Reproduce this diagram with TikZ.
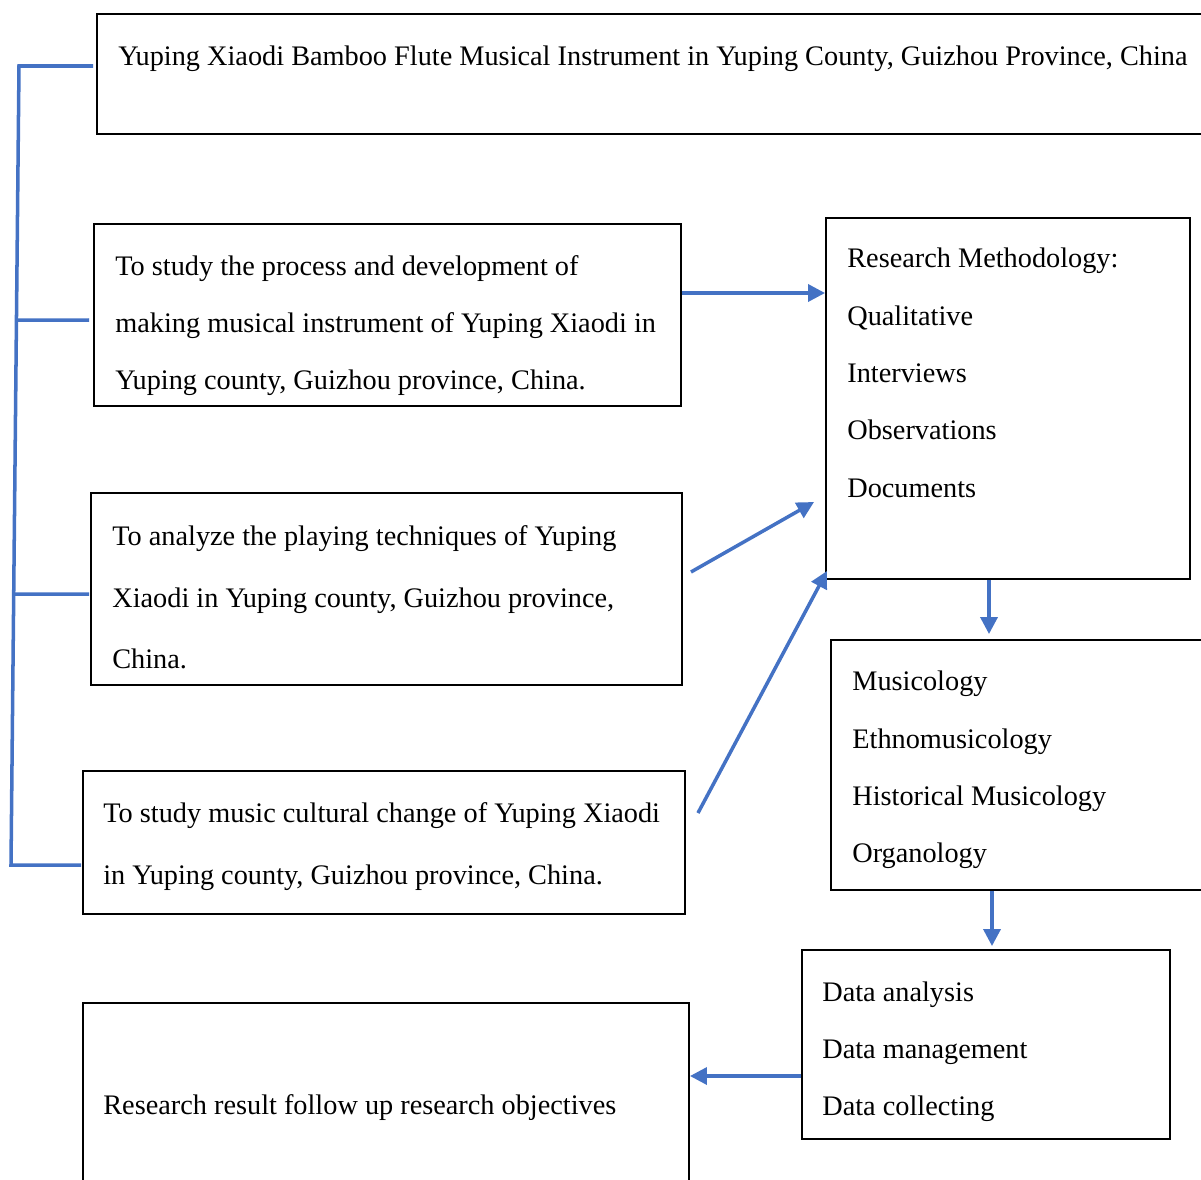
\documentclass[tikz,border=0pt]{standalone}
\usepackage{fontspec}
\setmainfont{Liberation Serif}
\usetikzlibrary{arrows.meta,calc}
\definecolor{linkblue}{HTML}{4472C4}
\begin{document}
\begin{tikzpicture}[
    box/.style={draw,line width=1.1pt,inner sep=0pt},
    txt/.style={anchor=north west,inner sep=0pt,align=left,font=\fontsize{16.1}{32.6}\selectfont},
    widetxt/.style={txt,font=\fontsize{16.1}{35.2}\selectfont},
    link/.style={linkblue,line width=2pt},
    flow/.style={link,-{Triangle[length=3.4mm,width=3.4mm]}}
  ]
  \useasboundingbox (0,0) rectangle (24.02,-23.58);
  % boxes
  \node[box,minimum width=22.26cm,minimum height=2.4cm] (title) at (13.07,-1.48) {};
  \node[box,minimum width=11.74cm,minimum height=3.64cm] (aim1) at (7.75,-6.30) {};
  \node[box,minimum width=11.82cm,minimum height=3.84cm] (aim2) at (7.73,-11.78) {};
  \node[box,minimum width=12.04cm,minimum height=2.86cm] (aim3) at (7.68,-16.85) {};
  \node[box,minimum width=12.12cm,minimum height=3.74cm] (result) at (7.72,-21.93) {};
  \node[box,minimum width=7.28cm,minimum height=7.22cm] (method) at (20.16,-7.97) {};
  \node[box,minimum width=7.44cm,minimum height=5.0cm] (field) at (20.34,-15.30) {};
  \node[box,minimum width=7.36cm,minimum height=3.78cm] (data) at (19.72,-20.89) {};
  % texts
  \node[txt] (titletxt) at (2.36,-0.92) {Yuping Xiaodi Bamboo Flute Musical Instrument in Yuping County, Guizhou Province, China};
  \node[txt] (aim1txt) at (2.30,-5.10) {To study the process and development of\\making musical instrument of Yuping Xiaodi in\\Yuping county, Guizhou province, China.};
  \node[widetxt] (aim2txt) at (2.24,-10.50) {To analyze the playing techniques of Yuping\\Xiaodi in Yuping county, Guizhou province,\\China.};
  \node[widetxt] (aim3txt) at (2.06,-16.04) {To study music cultural change of Yuping Xiaodi\\in Yuping county, Guizhou province, China.};
  \node[txt] (resulttxt) at (2.06,-21.88) {Research result follow up research objectives};
  \node[txt] (methodtxt) at (16.94,-4.96) {Research Methodology:\\Qualitative\\Interviews\\Observations\\Documents};
  \node[txt] (fieldtxt) at (17.04,-13.42) {Musicology\\Ethnomusicology\\Historical Musicology\\Organology};
  \node[txt] (datatxt) at (16.44,-19.62) {Data analysis\\Data management\\Data collecting};
  % bracket on the left
  \coordinate (bt) at (0.38,-1.32);
  \coordinate (bb) at (0.22,-17.30);
  \draw[link] ([shift={(-0.06,0.16)}]title.west) -- (bt) -- (bb) -- ([shift={(-0.02,-0.45)}]aim3.west);
  \draw[link] ([shift={(-0.08,-0.1)}]aim1.west) -- ($(bt)!0.318!(bb)$);
  \draw[link] ([shift={(-0.02,-0.1)}]aim2.west) -- ($(bt)!0.661!(bb)$);
  % arrows
  \draw[flow] ([yshift=0.44cm]aim1.east) -- ([yshift=0.44cm]aim1.east -| method.west);
  \draw[flow] ([shift={(0.16,0.34)}]aim2.east) -- ([shift={(-0.22,-2.07)}]method.west);
  \draw[flow] ([shift={(0.24,0.59)}]aim3.east) -- ([shift={(0.04,0.18)}]method.south west);
  \draw[flow,shorten >=0.1cm] ([xshift=-0.38cm]method.south) -- ([xshift=-0.38cm]method.south |- field.north);
  \draw[flow,shorten >=0.06cm] ([xshift=-0.5cm]field.south) -- ([xshift=-0.5cm]field.south |- data.north);
  \draw[flow] ([yshift=-0.63cm]data.west) -- ([yshift=-0.63cm]data.west -| result.east);
\end{tikzpicture}
\end{document}
